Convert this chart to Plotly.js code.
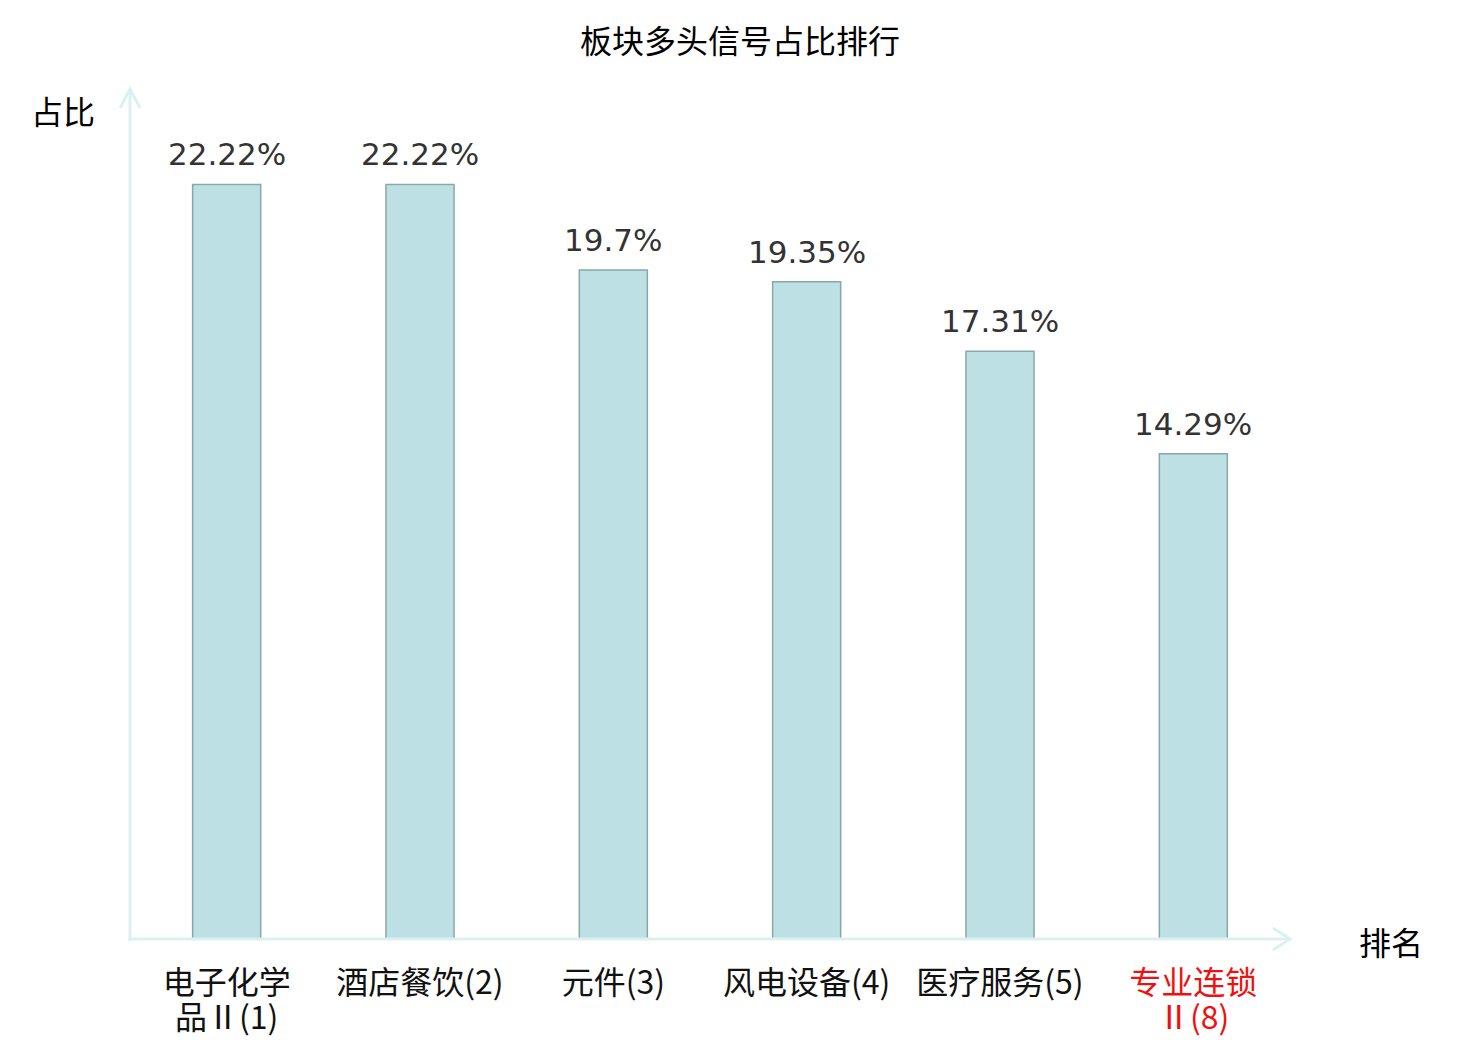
<!DOCTYPE html>
<html>
<head>
<meta charset="utf-8">
<script src="https://cdn.plot.ly/plotly-3.0.1.min.js"></script>
<style>html,body{margin:0;padding:0;background:#fff;}#chart{width:1480px;height:1040px;}</style>
</head>
<body>
<div id="chart"></div>
<script>
const labelLine1 = ["电子化学", "酒店餐饮(2)", "元件(3)", "风电设备(4)", "医疗服务(5)", "专业连锁"];
const labelLine2 = ["品Ⅱ(1)", "", "", "", "", "Ⅱ(8)"];
const values = [22.22, 22.22, 19.7, 19.35, 17.31, 14.29];
const valueLabels = ["22.22%", "22.22%", "19.7%", "19.35%", "17.31%", "14.29%"];
const highlightIndex = 5;

const idx = labelLine1.map((c, i) => i);
const wrapColor = (s, i) => i === highlightIndex ? '<span style="color:#ee1111">' + s + '</span>' : s;
const tickText = labelLine1.map(wrapColor);

const axisColor = '#dcf1ef';
const W = 1160, H = 849; // plot area px
const px = v => v / W, py = v => v / H;
const cjk = 'Noto Sans CJK SC';

const trace = {
  type: 'bar',
  x: idx,
  y: values,
  width: 0.352,
  marker: {color: '#bce0e3', line: {color: '#8aa8a8', width: 1.5}},
  hoverinfo: 'none'
};

const valueAnns = values.map((v, i) => ({
  text: valueLabels[i], xref: 'x', yref: 'y', x: idx[i], y: v,
  xanchor: 'center', yanchor: 'middle', yshift: 30, showarrow: false,
  font: {family: 'DejaVu Sans', size: 31, color: '#333333'}
}));

const line2Anns = labelLine2.map((s, i) => s ? ({
  text: wrapColor(s, i), xref: 'x', yref: 'paper', x: idx[i], y: 0,
  xanchor: 'center', yanchor: 'middle', yshift: -(1015 - 939), showarrow: false,
  font: {family: cjk, size: 32, color: '#111111'}
}) : null).filter(a => a);

const layout = {
  width: 1480, height: 1040,
  margin: {l: 130, r: 190, t: 90, b: 101, pad: 0},
  paper_bgcolor: '#ffffff', plot_bgcolor: '#ffffff',
  showlegend: false,
  title: {text: '板块多头信号占比排行', x: 0.5, xanchor: 'center', y: 1 - 42/1040, yanchor: 'middle',
          font: {family: cjk, size: 32, color: '#000000'}},
  xaxis: {
    range: [-0.5, 5.5], tickmode: 'array', tickvals: idx, ticktext: tickText,
    showgrid: false, zeroline: false, showline: false, ticks: '',
    ticklabelstandoff: 22,
    tickfont: {family: cjk, size: 32, color: '#111111'},
    fixedrange: true
  },
  yaxis: {
    range: [0, 25], showgrid: false, zeroline: false, showline: false, showticklabels: false, ticks: '',
    fixedrange: true
  },
  shapes: [
    {type: 'line', xref: 'paper', yref: 'paper', x0: 0, x1: 0, y0: py(-2), y1: 1 + py(1), line: {color: axisColor, width: 3}},
    {type: 'line', xref: 'paper', yref: 'paper', x0: px(-2), x1: 1, y0: 0, y1: 0, line: {color: axisColor, width: 3}},
    {type: 'path', xref: 'paper', yref: 'paper',
     path: `M ${px(-10)} ${1 - py(18)} L 0 ${1 + py(1)} L ${px(10)} ${1 - py(18)}`,
     line: {color: axisColor, width: 3}},
    {type: 'path', xref: 'paper', yref: 'paper',
     path: `M ${1 - px(17)} ${py(11)} L 1 0 L ${1 - px(17)} ${py(-11)}`,
     line: {color: axisColor, width: 3}}
  ],
  annotations: [
    {text: '占比', xref: 'paper', yref: 'paper', x: px(63 - 130), y: 1 - py(110 - 90), xanchor: 'center', yanchor: 'middle',
     showarrow: false, font: {family: cjk, size: 32, color: '#000000'}},
    {text: '排名', xref: 'paper', yref: 'paper', x: 1 + px(1391 - 1290), y: py(939 - 941), xanchor: 'center', yanchor: 'middle',
     showarrow: false, font: {family: cjk, size: 32, color: '#000000'}}
  ].concat(valueAnns, line2Anns)
};

Plotly.newPlot('chart', [trace], layout, {displayModeBar: false, staticPlot: true});
</script>
</body>
</html>
